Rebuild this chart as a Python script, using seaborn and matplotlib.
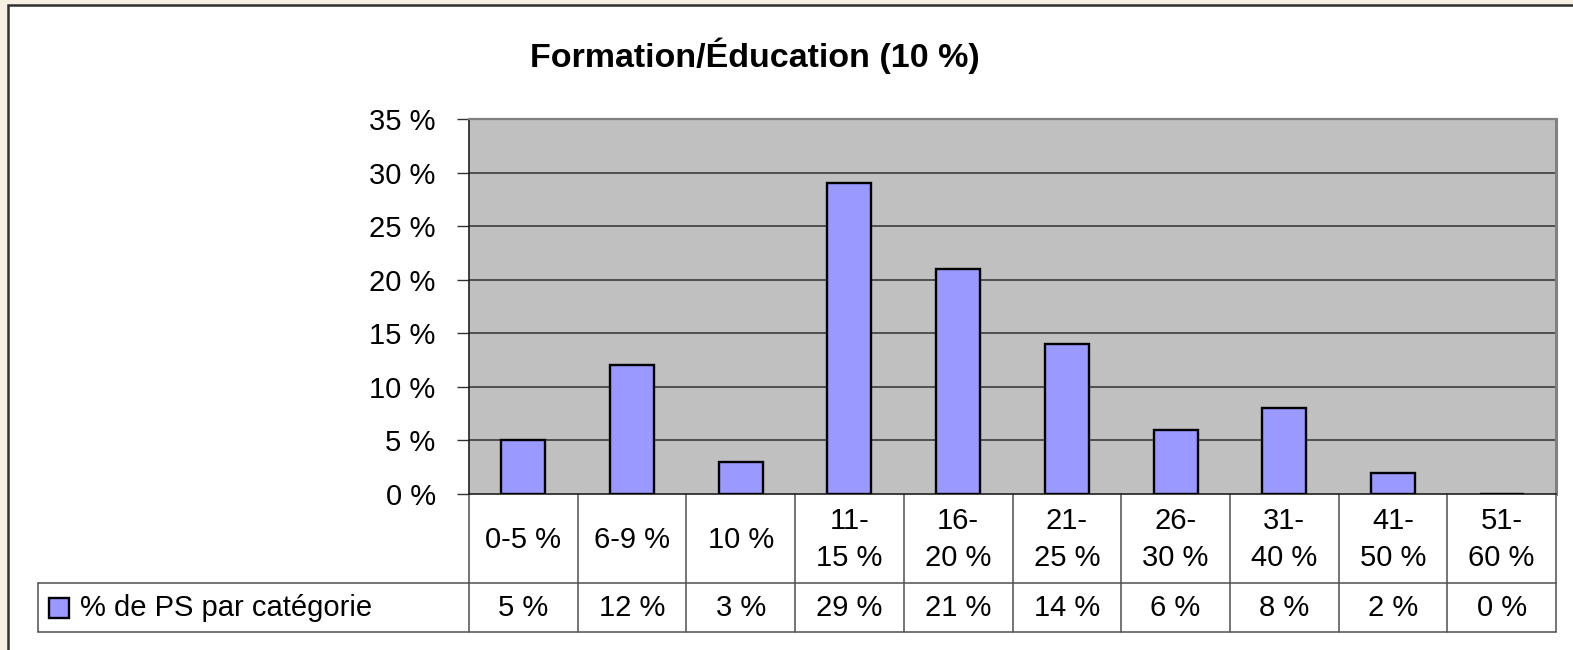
import matplotlib
matplotlib.use("Agg")
import matplotlib.pyplot as plt
from matplotlib.patches import Rectangle
from matplotlib.lines import Line2D
import seaborn as sns

# Data
categories = ["0-5 %", "6-9 %", "10 %", "11-\n15 %", "16-\n20 %", "21-\n25 %",
              "26-\n30 %", "31-\n40 %", "41-\n50 %", "51-\n60 %"]
shares = [5, 12, 3, 29, 21, 14, 6, 8, 2, 0]
series_name = "% de PS par catégorie"
title = "Formation/Éducation (10 %)"
y_ticks = [0, 5, 10, 15, 20, 25, 30, 35]

BAR = "#9999ff"
PLOT_BG = "#c0c0c0"
FONT = "Liberation Sans"
FS = 21

sns.set_theme(style="white")
plt.rcParams["font.family"] = [FONT, "DejaVu Sans"]
plt.rcParams["text.color"] = "black"
plt.rcParams["ytick.labelcolor"] = "black"

W, H = 1573, 650
fig = plt.figure(figsize=(W / 100, H / 100), dpi=100)
fig.patch.set_facecolor("#f6f0e2")


def fx(px):
    return px / W


def fy(py):
    return 1 - py / H


# White chart frame with dark border
frame = Rectangle((fx(8), fy(700)), fx(1600 - 8), fy(5) - fy(700),
                  transform=fig.transFigure, facecolor="white",
                  edgecolor="#303030", linewidth=1.8, zorder=-5)
fig.patches.append(frame)

L, R, T, B = 469, 1556, 119, 494
ax = fig.add_axes([fx(L), fy(B), fx(R - L), fy(T) - fy(B)])
ax.set_facecolor(PLOT_BG)

df_x = list(range(len(categories)))
sns.barplot(x=df_x, y=shares, color=BAR, edgecolor="black", linewidth=1.7,
            width=0.405, saturation=1, ax=ax, zorder=3)

ax.set_xlim(-0.5, len(categories) - 0.5)
ax.set_ylim(0, 35)
ax.set_yticks(y_ticks)
ax.set_yticklabels([f"{v} %" for v in y_ticks], fontsize=FS, family=[FONT],
                   color="black")
ax.set_xticks([])
ax.set_xlabel("")
ax.set_ylabel("")
ax.tick_params(axis="y", direction="out", length=9, width=1, color="#303030",
               pad=15, left=True)
for v in y_ticks[1:-1]:
    ax.axhline(v, color="#303030", linewidth=1.1, zorder=1)

for side in ("left", "bottom"):
    ax.spines[side].set_color("#202020")
    ax.spines[side].set_linewidth(1.2)
ax.spines["top"].set_color("#808080")
ax.spines["top"].set_linewidth(1.6)
ax.spines["right"].set_color("#808080")
ax.spines["right"].set_linewidth(2.2)

# Data table under the axis
row1_bottom = 583
row2_bottom = 632
legend_left = 38
tr = ax.get_xaxis_transform()
ncol = len(categories)
line_kw = dict(color="#505050", linewidth=1.1, clip_on=False)


def ay(py):
    return (B - py) / (B - T)


# vertical separators between columns
for i in range(ncol + 1):
    ax.add_line(Line2D([i - 0.5, i - 0.5], [ay(B), ay(row2_bottom)],
                       transform=tr, **line_kw))
# horizontal row lines
ax.add_line(Line2D([-0.5, ncol - 0.5], [ay(row1_bottom), ay(row1_bottom)],
                   transform=tr, **line_kw))
fig.add_artist(Line2D([fx(legend_left), fx(L)], [fy(row1_bottom)] * 2,
                      transform=fig.transFigure, color="#505050", linewidth=1.1))
fig.add_artist(Line2D([fx(legend_left), fx(R)], [fy(row2_bottom)] * 2,
                      transform=fig.transFigure, color="#505050", linewidth=1.1))
fig.add_artist(Line2D([fx(legend_left)] * 2, [fy(row1_bottom), fy(row2_bottom)],
                      transform=fig.transFigure, color="#505050", linewidth=1.1))

for i, (cat, val) in enumerate(zip(categories, shares)):
    ax.text(i, ay((B + row1_bottom) / 2 + 1), cat, transform=tr, ha="center",
            va="center", fontsize=FS, linespacing=1.45, family=[FONT],
            color="black")
    ax.text(i, ay((row1_bottom + row2_bottom) / 2 + 1), f"{val} %", transform=tr,
            ha="center", va="center", fontsize=FS, family=[FONT], color="black")

# legend key in the table
key_y = (row1_bottom + row2_bottom) / 2
fig.patches.append(Rectangle((fx(49), fy(key_y + 10)), fx(20), fy(key_y - 10) - fy(key_y + 10),
                             transform=fig.transFigure, facecolor=BAR,
                             edgecolor="black", linewidth=1.7))
fig.text(fx(80), fy(key_y + 1), series_name, ha="left", va="center",
         fontsize=FS, family=[FONT], color="black")

fig.text(fx(755), fy(56), title, ha="center", va="center", fontsize=24.5,
         fontweight="bold", family=[FONT], color="black")

fig.savefig("out.png", dpi=100, facecolor=fig.get_facecolor())
